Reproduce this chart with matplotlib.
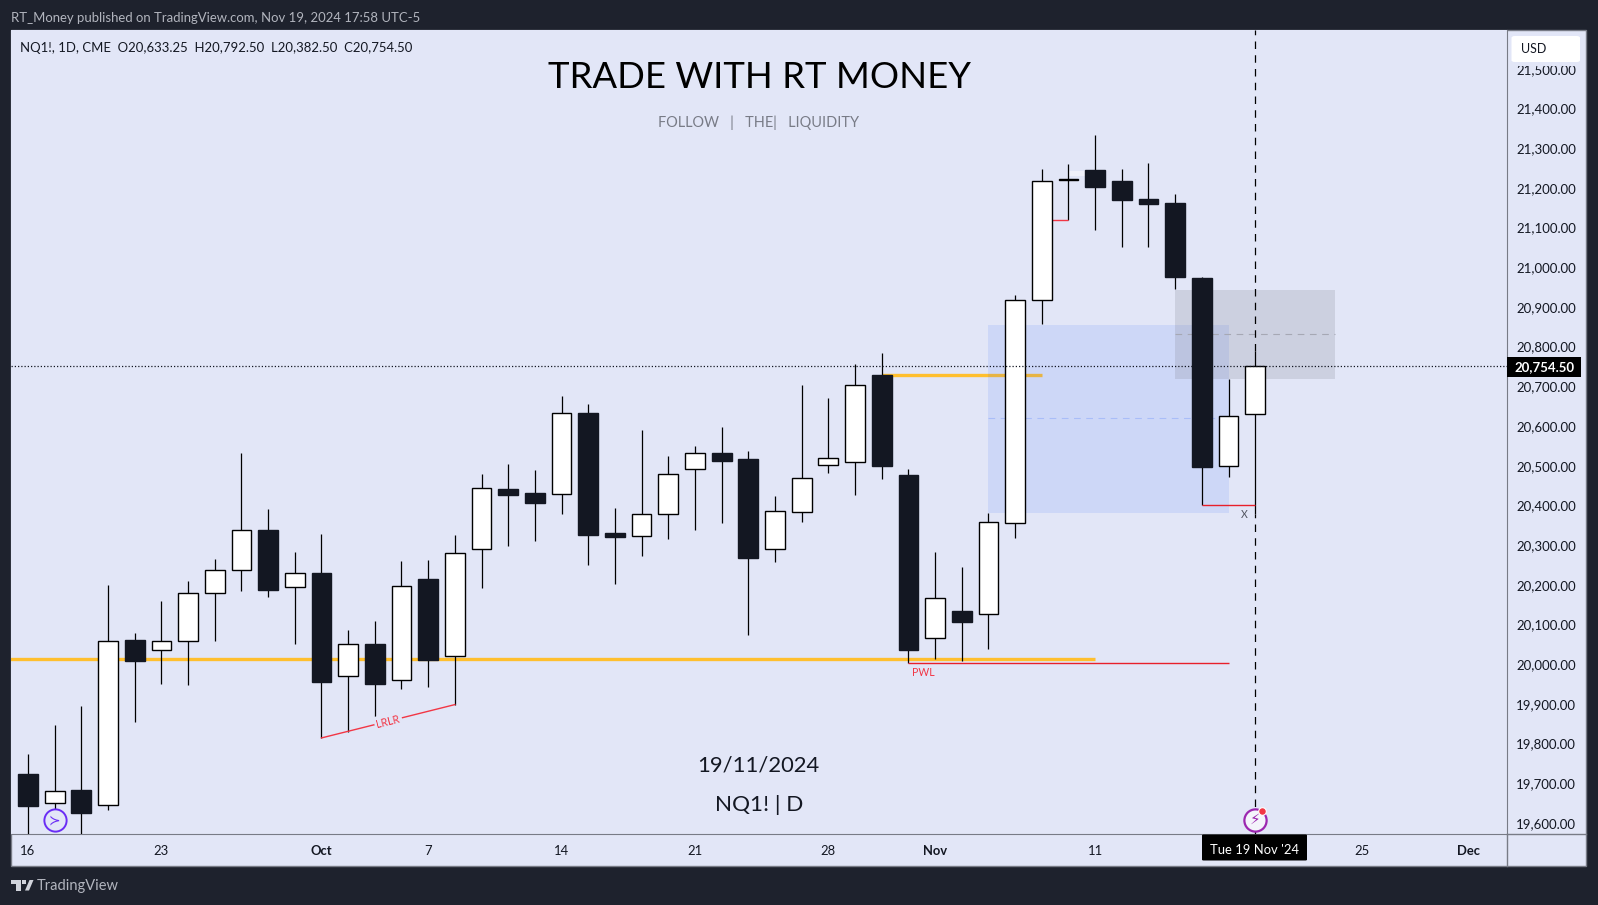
import numpy as np
import matplotlib
matplotlib.use("Agg")
import matplotlib.pyplot as plt
from matplotlib.patches import Rectangle, FancyBboxPatch, Polygon
from matplotlib.transforms import ScaledTranslation

plt.rcParams['font.family'] = ['Lato', 'DejaVu Sans']

W, H = 1598, 905

# daily candles, 16 Sep to 19 Nov 2024
opens = [19727, 19653, 19687, 19648, 20065, 20038.6, 20061, 20182, 20240, 20343,
         20197, 20232.6, 19973, 20055, 19963, 20218, 20023.5, 20293, 20445, 20435,
         20431.5, 20637, 20334, 20326, 20381, 20494.5, 20536, 20521, 20293, 20386,
         20505, 20512, 20732, 20480, 20069, 20138, 20129, 20358.5, 20920, 21224.5,
         21248.5, 21221, 21175, 21165, 20976, 20502, 20633.25]
highs = [19777.5, 19850.6, 19898, 20203, 20082, 20163, 20213, 20269, 20535, 20394,
         20286, 20332, 20090, 20112.5, 20264, 20266, 20329, 20483, 20508, 20493,
         20679, 20659, 20397, 20593.6, 20528, 20553, 20601, 20541, 20427, 20707,
         20674, 20760, 20787.5, 20494.5, 20286, 20248.5, 20384, 20934, 21251, 21263.6,
         21338, 21251, 21266, 21188, 20978, 20722, 20792.5]
lows = [19560, 19590, 19540, 19637, 19859, 19955, 19952, 20063, 20189, 20174,
        20055, 19818, 19834, 19850.6, 19942, 19946, 19902, 20196, 20302, 20315,
        20383, 20254, 20206, 20276, 20320, 20343, 20360, 20078, 20262, 20363,
        20486, 20431, 20471, 20006, 20017, 20012, 20042, 20322, 20861, 21122,
        21098, 21055, 21055, 20949.6, 20404.7, 20476, 20382.5]
closes = [19647, 19683.5, 19630, 20061, 20012.6, 20061, 20182, 20240, 20343, 20191,
          20232.6, 19960, 20054, 19955, 20200, 20014, 20285, 20447, 20431, 20410.6,
          20635.6, 20330, 20324, 20381, 20482, 20537, 20516, 20272, 20389, 20474,
          20522, 20706, 20504, 20040, 20170, 20111, 20361, 20920, 21222, 21225.5,
          21206.5, 21174, 21163.7, 20980, 20501, 20628, 20754.5]

price_ticks = [19600 + 100 * i for i in range(20)]
date_ticks = [0, 5, 11, 15, 20, 25, 30, 34, 40, 50, 54]
date_labels = ['16', '23', 'Oct', '7', '14', '21', '28', 'Nov', '11', '25', 'Dec']
bold_dates = ['Oct', 'Nov', 'Dec']

last_price = closes[-1]
last_index = 46
blue_zone = [36, 45, 20384.5, 20858, 20623]
grey_zone = [43, 49, 20722, 20946, 20834.6]
level_low = [-1, 40, 20016]
level_high = [32, 38, 20731]
pwl = [33, 45, 20006]
lrlr_x = [11, 16]
lrlr_y = [19818, 19902]

BG = '#E2E6F7'
DARK = '#1E222D'
CANDLE = '#131722'
RED = '#F23645'
AXIS = '#787B86'


def fx(x):
    return x / W


def fy(y):
    return 1 - y / H


def label(x, y, s, px, color=CANDLE, ha='left', **kw):
    return fig.text(fx(x), fy(y), s, fontsize=px * 0.72, color=color, ha=ha, va='center', **kw)


fig = plt.figure(figsize=(W / 100, H / 100), dpi=100, facecolor=DARK)

# chart panel behind the axes
fig.add_artist(Rectangle((fx(11), fy(866)), 1575 / W, 836 / H, transform=fig.transFigure,
                         facecolor=BG, edgecolor=AXIS, lw=1, zorder=-1))

ax = fig.add_axes([fx(11.2), fy(834.3), (1506.5 - 11.2) / W, (834.3 - 30.3) / H])
ax.set_facecolor(BG)
ax.set_xlim(-0.63, 55.42)
ax.set_ylim(19575.3, 21600.5)
for side in ['left', 'top']:
    ax.spines[side].set_visible(False)
ax.spines['bottom'].set_color(AXIS)
ax.spines['right'].set_color(AXIS)
fig.add_artist(plt.Line2D([fx(1506.5), fx(1506.5)], [fy(834), fy(866)], color=AXIS, lw=1, transform=fig.transFigure))
fig.add_artist(plt.Line2D([fx(1506.5), fx(1586)], [fy(834.3), fy(834.3)], color=AXIS, lw=1, transform=fig.transFigure))

# levels, then zones, then candles
ax.hlines(level_low[2], level_low[0], level_low[1], color='#FFBF2E', lw=2.4, zorder=1)
ax.hlines(level_high[2], level_high[0], level_high[1], color='#FFBF2E', lw=2.4, zorder=1)

ax.add_patch(Rectangle((blue_zone[0], blue_zone[2]), blue_zone[1] - blue_zone[0],
                       blue_zone[3] - blue_zone[2], facecolor='#2962FF', alpha=0.11, lw=0, zorder=2))
ax.hlines(blue_zone[4], blue_zone[0], blue_zone[1], color='#A9BDF8', lw=0.8, ls=(0, (6, 5)), zorder=2)
ax.add_patch(Rectangle((grey_zone[0], grey_zone[2]), grey_zone[1] - grey_zone[0],
                       grey_zone[3] - grey_zone[2], facecolor=AXIS, alpha=0.2, lw=0, zorder=2))
ax.hlines(grey_zone[4], grey_zone[0], grey_zone[1], color='#A6A8B4', lw=0.8, ls=(0, (6, 5)), zorder=2)
ax.add_patch(Rectangle((39, 21234), 1, 12, facecolor='#F0F1FA', lw=0, zorder=2))

idx = np.arange(len(opens))
o = np.array(opens)
c = np.array(closes)
up = c >= o
ax.vlines(idx, lows, highs, color='black', lw=0.9, zorder=3)
bottoms = np.minimum(o, c)
heights = np.abs(c - o)
ax.bar(idx[up], heights[up], bottom=bottoms[up], width=0.74, facecolor='white',
       edgecolor='black', lw=1, zorder=4)
ax.bar(idx[~up], heights[~up], bottom=bottoms[~up], width=0.74, facecolor=CANDLE,
       edgecolor=CANDLE, lw=1, zorder=4)

# drawn annotations
ax.hlines(pwl[2], pwl[0], pwl[1], color='#E8202B', lw=1, zorder=3)
ax.hlines(21122, 38.2, 39, color=RED, lw=1, zorder=3)
ax.hlines(20404.7, 44, 46, color='#E8202B', lw=1, zorder=3)
ax.plot(lrlr_x, lrlr_y, color=RED, lw=1, zorder=3)
ax.text(13.5, 19860, 'LRLR', fontsize=7.6, color=RED, rotation=14, ha='center', va='center', zorder=3,
        bbox=dict(facecolor=BG, edgecolor='none', pad=1.5))
ax.text(33.13, 19984, 'PWL', fontsize=7.6, color=RED, ha='left', va='center', zorder=5)
ax.text(45.6, 20381, 'X', fontsize=7.6, color='#50535E', ha='center', va='center', zorder=5)

# last price and crosshair
ax.axhline(last_price, color=CANDLE, lw=0.9, ls=(0, (1, 1.6)), zorder=5)
ax.vlines(last_index, 20792.5, 21600.5, color='black', lw=0.9, ls=(0, (6, 5)), zorder=5)
ax.vlines(last_index, 19575.3, 20382.5, color='black', lw=0.9, ls=(0, (6, 5)), zorder=5)

# event icons
ax.plot([1], [19612], 'o', ms=16, mfc=BG, mec='#6A2CF5', mew=1.4, zorder=6)
ax.text(1, 19611, '\u227b', fontsize=10, color='#6A2CF5', ha='center', va='center', zorder=7)
ax.plot([46], [19612], 'o', ms=16, mfc='#F4F4FB', mec='#9C27B0', mew=1.6, zorder=6)
ax.text(46, 19611, '\u26a1', fontsize=11, color='#9C27B0', ha='center', va='center', zorder=7)
ax.plot([46.27], [19633], 'o', ms=5.5, mfc=RED, mec='white', mew=0.8, zorder=8)

ax.yaxis.tick_right()
ax.set_yticks(price_ticks)
ax.set_yticklabels([f'{v:,.2f}' for v in price_ticks], fontsize=9.5, color=CANDLE, ha='left')
ax.tick_params(axis='y', length=0, pad=7)
lift = ScaledTranslation(0, 1.5 / 100, fig.dpi_scale_trans)
for t in ax.get_yticklabels():
    t.set_transform(t.get_transform() + lift)
ax.set_xticks(date_ticks)
ax.set_xticklabels(date_labels, fontsize=9.4, color=CANDLE)
ax.tick_params(axis='x', length=0, pad=7.5)
for t in ax.get_xticklabels():
    if t.get_text() in bold_dates:
        t.set_fontweight('bold')

# widgets over the axes, the USD button has a halo that cuts the top tick label
fig.add_artist(Rectangle((fx(1510), fy(66.5)), 72 / W, 32 / H, transform=fig.transFigure,
                         facecolor=BG, edgecolor='none', zorder=5))
fig.add_artist(FancyBboxPatch((fx(1511.5), fy(62)), 68.5 / W, 26 / H, boxstyle='round,pad=0,rounding_size=0.002',
                              transform=fig.transFigure, facecolor='white', edgecolor='none', zorder=5))
label(1521, 49, 'USD', 12.5, zorder=6)
fig.add_artist(Rectangle((fx(1507), fy(377)), 74 / W, 20 / H, transform=fig.transFigure,
                         facecolor='black', edgecolor='none', zorder=5))
label(1545, 367, f'{last_price:,.2f}', 13.2, color='white', ha='center', fontweight='bold', zorder=6)
fig.add_artist(FancyBboxPatch((fx(1202), fy(860.5)), 105 / W, 26 / H, boxstyle='round,pad=0,rounding_size=0.001',
                              transform=fig.transFigure, facecolor='black', edgecolor='none', zorder=5))
label(1254.5, 850, "Tue 19 Nov '24", 13, color='white', ha='center', zorder=6)

# header, footer and watermark text
label(11, 17.5, 'RT_Money published on TradingView.com, Nov 19, 2024 17:58 UTC-5', 13.15, color='#B2B5BE')
label(20, 47.5, 'NQ1!, 1D, CME  O20,633.25  H20,792.50  L20,382.50  C20,754.50', 13.1)
label(759, 77, 'TRADE WITH RT MONEY', 36.5, color='black', ha='center')
label(759, 123, 'FOLLOW   |   THE|   LIQUIDITY', 14.5, color=AXIS, ha='center')
label(758.5, 766, '19/11/2024', 22, color='#131722', ha='center')
label(759, 805, 'NQ1! | D', 22.5, color='#131722', ha='center')
label(37, 886, 'TradingView', 14.6, color='#B2B5BE')

# TradingView logo
logo = '#D1D4DC'
fig.add_artist(Rectangle((fx(11), fy(884)), 9.5 / W, 4 / H, transform=fig.transFigure, facecolor=logo, lw=0))
fig.add_artist(Rectangle((fx(15.5), fy(890.5)), 5 / W, 6.5 / H, transform=fig.transFigure, facecolor=logo, lw=0))
fig.add_artist(Polygon([(fx(25), fy(890.5)), (fx(29.5), fy(880)), (fx(33.5), fy(880)), (fx(29), fy(890.5))],
                       closed=True, transform=fig.transFigure, facecolor=logo, lw=0))
fig.add_artist(Rectangle((fx(22), fy(884)), 3.5 / W, 4 / H, transform=fig.transFigure, facecolor=logo, lw=0))

fig.savefig('out.png', dpi=100, facecolor=DARK)
